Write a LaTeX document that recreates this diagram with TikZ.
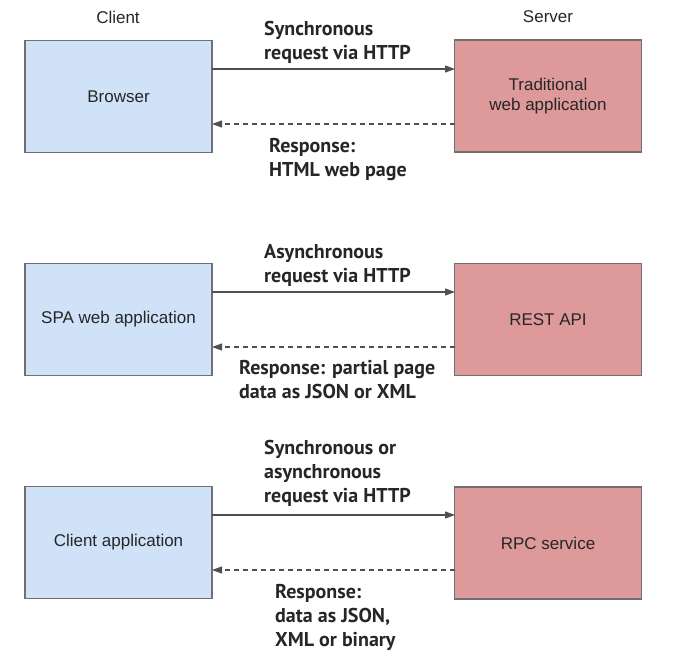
\documentclass[tikz,border=0pt]{standalone}
\usepackage{fontspec}
\setmainfont{Liberation Sans}
\newfontfamily\lblfont{PT Sans}
\usetikzlibrary{arrows.meta}
\definecolor{cblue}{HTML}{CFE2F8}
\definecolor{cred}{HTML}{DE9A9A}
\definecolor{cedge}{HTML}{707070}
\definecolor{cline}{HTML}{505050}
\tikzset{
  clientbox/.style={draw=cedge, line width=1.2pt, fill=cblue, minimum width=187pt, minimum height=112pt, font=\fontsize{17}{20}\selectfont, text=black!85, align=center},
  serverbox/.style={clientbox, fill=cred},
  hdr/.style={font=\fontsize{17}{20}\selectfont, text=black!85},
  lbl/.style={font=\lblfont\bfseries\fontsize{20}{24}\selectfont, align=left, anchor=north west, inner sep=0pt, text=black!85},
  req/.style={draw=cline, line width=1.1pt, -{Triangle[length=10pt,width=7pt]}},
  resp/.style={draw=cline, line width=1.1pt, dash pattern=on 5pt off 4pt, -{Triangle[length=10pt,width=7pt]}}
}
\begin{document}
\begin{tikzpicture}[x=1pt,y=-1pt]
\useasboundingbox (0,0) rectangle (675,662);
\node[hdr] (client) at (118,17) {Client};
\node[hdr] (server) at (548,17) {Server};
% row 1
\node[clientbox] (c1) at (118.5,96.5) {Browser};
\node[serverbox] (s1) at (548,96) {Traditional\\web application};
\coordinate (c1a) at (212,69); \coordinate (s1a) at (455,69);
\coordinate (c1b) at (212,124); \coordinate (s1b) at (455,124);
\draw[req] (c1a) -- (s1a);
\draw[resp] (s1b) -- (c1b);
\node[lbl] (l1a) at (264,21) {Synchronous\\request via HTTP};
\node[lbl] (l1b) at (269,138.5) {Response:\\HTML web page};
% row 2
\node[clientbox] (c2) at (118.5,319.5) {SPA web application};
\node[serverbox] (s2) at (548,319.5) {REST API};
\coordinate (c2a) at (212,292); \coordinate (s2a) at (455,292);
\coordinate (c2b) at (212,347); \coordinate (s2b) at (455,347);
\draw[req] (c2a) -- (s2a);
\draw[resp] (s2b) -- (c2b);
\node[lbl] (l2a) at (264,244.5) {Asynchronous\\request via HTTP};
\node[lbl] (l2b) at (239,360) {Response: partial page\\data as JSON or XML};
% row 3
\node[clientbox] (c3) at (118.5,542.5) {Client application};
\node[serverbox] (s3) at (548,543) {RPC service};
\coordinate (c3a) at (212,515); \coordinate (s3a) at (455,515);
\coordinate (c3b) at (212,570); \coordinate (s3b) at (455,570);
\draw[req] (c3a) -- (s3a);
\draw[resp] (s3b) -- (c3b);
\node[lbl] (l3a) at (264,440.5) {Synchronous or\\asynchronous\\request via HTTP};
\node[lbl] (l3b) at (275,584) {Response:\\data as JSON,\\XML or binary};
\end{tikzpicture}
\end{document}
